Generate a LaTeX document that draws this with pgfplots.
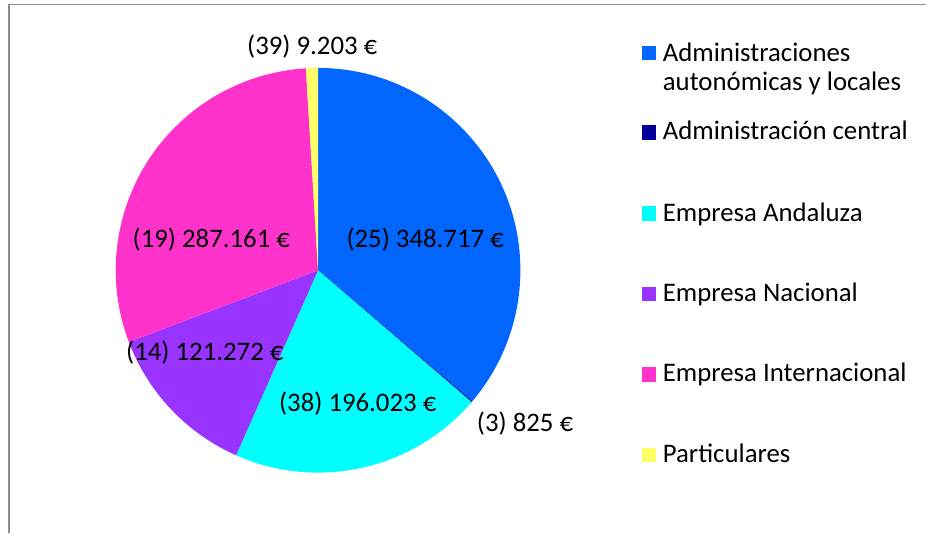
\documentclass[border=0pt]{standalone}
\usepackage{pgfplots}
\pgfplotsset{compat=1.18}
\usepackage{pgfplotstable}
\usepackage{fontspec}
\setmainfont{Carlito}

\definecolor{c1}{HTML}{0066FF}
\definecolor{c2}{HTML}{000099}
\definecolor{c3}{HTML}{00FFFF}
\definecolor{c4}{HTML}{9933FF}
\definecolor{c5}{HTML}{FF33CC}
\definecolor{c6}{HTML}{FFFF66}
\definecolor{frame}{HTML}{8C8C8C}

% slices clockwise from 12 o'clock; lx/ly = label position
\pgfplotstableread[col sep=comma]{
cnt,value,col,lx,ly
25,348717,c1,425.5,293
3,825,c2,525.5,109
38,196023,c3,358,129
14,121272,c4,205,180
19,287161,c5,211.5,293
39,9203,c6,312.5,486.3
}\piedata

\begin{document}
\begin{tikzpicture}[font=\fontsize{13.4}{15}\selectfont]
\begin{axis}[
    x=0.5pt, y=0.5pt,
    xmin=0, xmax=927, ymin=0, ymax=533,
    hide axis, clip=false,
]
\path (axis cs:0,0) rectangle (axis cs:927,533);
\draw[frame, line width=0.75pt] (axis cs:9,0) -- (axis cs:9,528.5) -- (axis cs:927,528.5);

\pgfplotsextra{
  \def\R{101.25pt}
  \pgfplotstablegetrowsof{\piedata}
  \pgfmathtruncatemacro\nrows{\pgfplotsretval-1}
  \gdef\total{0}
  \foreach \i in {0,...,\nrows}{
    \pgfplotstablegetelem{\i}{value}\of\piedata
    \xdef\total{\fpeval{\total+\pgfplotsretval}}
  }
  \gdef\startang{90}
  \foreach \i in {0,...,\nrows}{
    \pgfplotstablegetelem{\i}{value}\of\piedata \let\val\pgfplotsretval
    \pgfplotstablegetelem{\i}{col}\of\piedata \let\col\pgfplotsretval
    \edef\endang{\fpeval{\startang-360*\val/\total}}
    \fill[\col] (axis cs:318.3,262.5) -- ++(\startang:\R)
      arc[start angle=\startang, end angle=\endang, radius=\R] -- cycle;
    \xdef\startang{\endang}
  }
  \foreach \i in {0,...,\nrows}{
    \pgfplotstablegetelem{\i}{value}\of\piedata \let\val\pgfplotsretval
    \pgfplotstablegetelem{\i}{cnt}\of\piedata \let\cnt\pgfplotsretval
    \pgfplotstablegetelem{\i}{lx}\of\piedata \let\lx\pgfplotsretval
    \pgfplotstablegetelem{\i}{ly}\of\piedata \let\ly\pgfplotsretval
    \node[inner sep=0pt] at (axis cs:\lx,\ly)
      {(\cnt) \pgfmathprintnumber[fixed,precision=0,1000 sep={.},assume math mode=true]{\val}~€};
  }
}

% legend
\foreach \c/\y in {c1/480.2, c2/400.5, c3/319.2, c4/238.5, c5/158.3, c6/77.5}{
  \edef\temp{\noexpand\fill[\c] (axis cs:642.3,\y-7.2) rectangle (axis cs:656.7,\y+7.2);}
  \temp
}
\node[anchor=base west, inner sep=0pt] at (axis cs:663,471.3) {Administraciones};
\node[anchor=base west, inner sep=0pt] at (axis cs:663,442) {autonómicas y locales};
\node[anchor=base west, inner sep=0pt] at (axis cs:663,393) {Administración central};
\node[anchor=base west, inner sep=0pt] at (axis cs:663,311.5) {Empresa Andaluza};
\node[anchor=base west, inner sep=0pt] at (axis cs:663,231) {Empresa Nacional};
\node[anchor=base west, inner sep=0pt] at (axis cs:663,151) {Empresa Internacional};
\node[anchor=base west, inner sep=0pt] at (axis cs:663,70) {Particulares};
\end{axis}
\end{tikzpicture}
\end{document}
